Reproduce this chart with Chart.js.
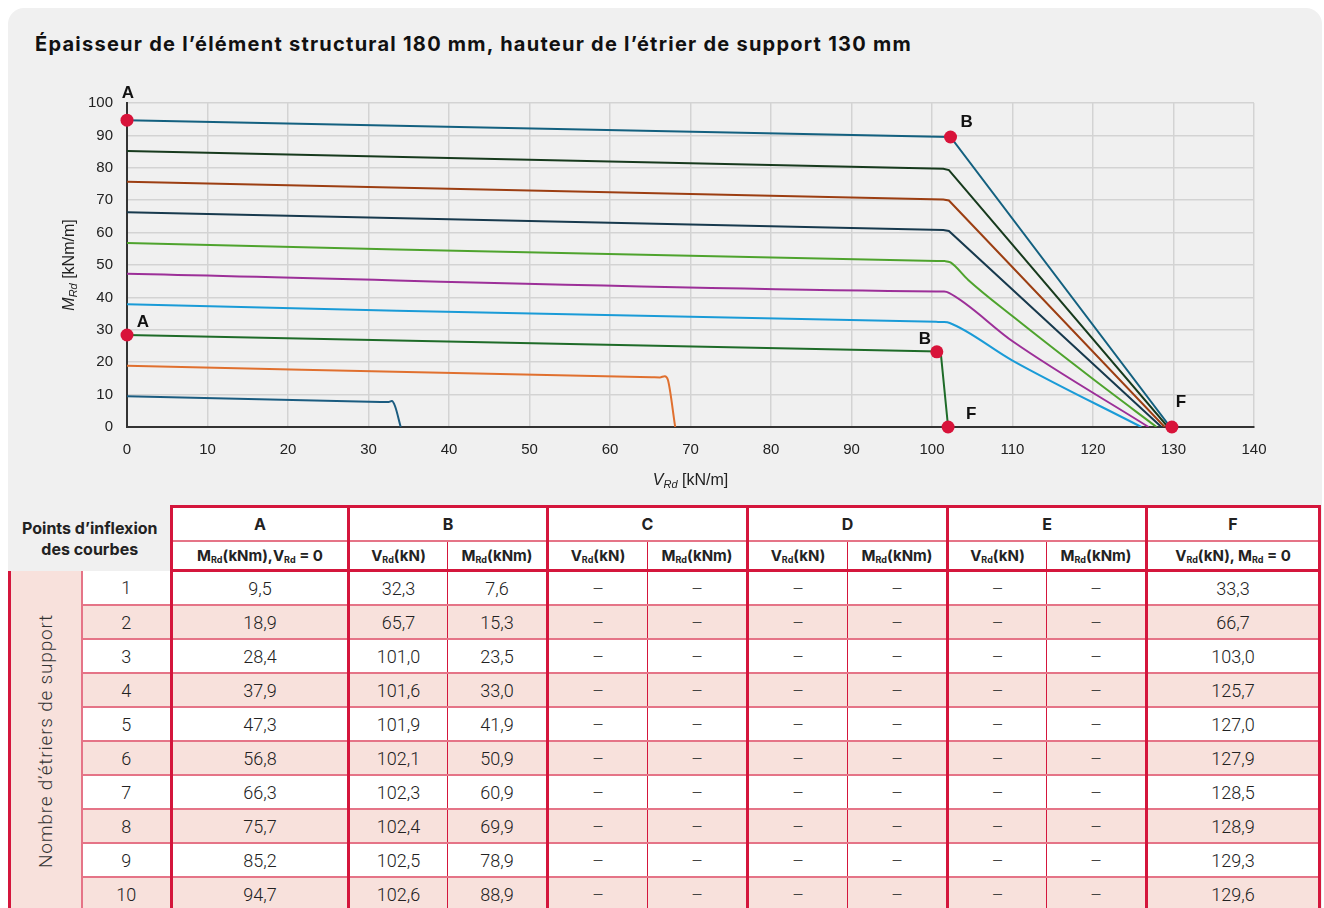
<!DOCTYPE html>
<html lang="fr">
<head>
<meta charset="utf-8">
<script src="https://cdn.jsdelivr.net/npm/chart.js@4.4.0/dist/chart.umd.min.js"></script>
<style>
    html, body { margin: 0; padding: 0; background: #fff; }
    body { width: 1324px; height: 908px; overflow: hidden; font-family: "Liberation Sans", Arial, sans-serif; }
    #card { position: absolute; left: 8px; top: 8px; width: 1314px; height: 940px; background: #f0f0f0; border-radius: 16px; }
    #title { position: absolute; left: 27px; top: 24px; font: 700 20px "Inter", sans-serif; color: #111; white-space: nowrap; letter-spacing: 1.25px; }
    #chartBox { position: absolute; left: 0; top: 72px; width: 1314px; height: 415px; }
    table { position: absolute; left: 0; top: 497px; border-collapse: collapse; table-layout: fixed; width: 1310px; }
    td, th { padding: 0; text-align: center; vertical-align: middle; color: #222; }
    th { font: 700 15px "Inter", sans-serif; background: #fff; }
    th sub { font-size: 9px; vertical-align: -2px; }
    td { font: 300 18px "Roboto", sans-serif; height: 32px; }
    tr.h1 th { height: 32px; font-size: 16px; }
    tr.h2 th { height: 27px; }
    th.corner { background: #f0f0f0; font-size: 15px; line-height: 21px; border: none; }
    .tk { border-left: 3px solid #d4163c; }
    .tkr { border-right: 3px solid #d4163c; }
    .tn { border-left: 1px solid #d4163c; }
    .tt { border-top: 3px solid #d4163c; }
    .tb { border-bottom: 3px solid #d4163c; }
    .pb { border-bottom: 2px solid #e57487; }
    tr.pink td { background: #f8e1dc; }
    tr.white td { background: #fff; }
    td.dash { color: #444; }
    td.side { background: #f8e1dc !important; border-left: 3px solid #d4163c; border-right: 2px solid #e57487; }
    td.side div { writing-mode: vertical-rl; transform: rotate(180deg); font: 300 19px "Roboto", sans-serif; letter-spacing: 0.8px; color: #333; margin: 0 auto; white-space: nowrap; }
</style>
</head>
<body>
<div id="card">
    <div id="title">Épaisseur de l’élément structural 180 mm, hauteur de l’étrier de support 130 mm</div>
    <div id="chartBox"><canvas id="chart" width="1314" height="415"></canvas></div>
    <table id="tbl">
        <colgroup>
            <col style="width:72px"><col style="width:90px"><col style="width:177px">
            <col style="width:99px"><col style="width:100px"><col style="width:100px"><col style="width:100px">
            <col style="width:100px"><col style="width:100px"><col style="width:99px"><col style="width:100px">
            <col style="width:173px">
        </colgroup>
        <thead>
            <tr class="h1">
                <th class="corner tb" colspan="2" rowspan="2">Points d’inflexion<br>des courbes</th>
                <th class="tk tt pb">A</th>
                <th class="tk tt pb" colspan="2">B</th>
                <th class="tk tt pb" colspan="2">C</th>
                <th class="tk tt pb" colspan="2">D</th>
                <th class="tk tt pb" colspan="2">E</th>
                <th class="tk tt pb tkr">F</th>
            </tr>
            <tr class="h2">
                <th class="tk tb">M<sub>Rd</sub>(kNm),V<sub>Rd</sub> = 0</th>
                <th class="tk tb">V<sub>Rd</sub>(kN)</th><th class="tn tb">M<sub>Rd</sub>(kNm)</th>
                <th class="tk tb">V<sub>Rd</sub>(kN)</th><th class="tn tb">M<sub>Rd</sub>(kNm)</th>
                <th class="tk tb">V<sub>Rd</sub>(kN)</th><th class="tn tb">M<sub>Rd</sub>(kNm)</th>
                <th class="tk tb">V<sub>Rd</sub>(kN)</th><th class="tn tb">M<sub>Rd</sub>(kNm)</th>
                <th class="tk tb tkr">V<sub>Rd</sub>(kN), M<sub>Rd</sub> = 0</th>
            </tr>
        </thead>
        <tbody id="tbody"></tbody>
    </table>
</div>
<script>
    "use strict";

    // curves: V_Rd [kN/m] and M_Rd [kNm/m], one pair per number of stirrups
    const curve1V = [0, 31.5, 32.4, 32.9, 33.3, 34.0];
    const curve1M = [9.5, 7.75, 7.7, 8.0, 6.4, 0];
    const curve2V = [0, 65.2, 66.2, 66.8, 67.2, 68.1];
    const curve2M = [18.9, 15.35, 15.3, 15.7, 14.5, 0];
    const curve3V = [0, 100.8, 101.1, 102.0];
    const curve3M = [28.4, 23.3, 22.6, 0];
    const curve4V = [0, 100.5, 101.5, 102.2, 110.0, 126.0];
    const curve4M = [37.9, 32.45, 32.4, 32.1, 20.5, 0];
    const curve5V = [0, 100.5, 101.5, 102.1, 110.1, 126.9];
    const curve5M = [47.3, 41.85, 41.8, 41.4, 26.3, 0];
    const curve6V = [0, 100.6, 101.6, 102.3, 104.5, 110.1, 120.0, 127.9];
    const curve6M = [56.8, 51.26, 51.2, 50.8, 45.4, 34.0, 14.8, 0];
    const curve7V = [0, 101.4, 102.1, 128.5];
    const curve7M = [66.3, 60.8, 60.5, 0];
    const curve8V = [0, 101.4, 102.1, 128.9];
    const curve8M = [75.7, 70.2, 69.9, 0];
    const curve9V = [0, 101.4, 102.1, 129.3];
    const curve9M = [85.2, 79.7, 79.3, 0];
    const curve10V = [0, 102.3, 129.6];
    const curve10M = [94.7, 89.5, 0];

    const curveColors = ['#1b5c80', '#e0702f', '#1e6b28', '#1a9bd7', '#9c2f98',
        '#4ea32d', '#17394d', '#9c3e12', '#173a1d', '#13607f'];
    // curves drawn with a smooth (monotone) path, the others with straight segments
    const smoothCurves = [0, 1, 3, 4, 5];

    // inflexion points marked in red
    const markerV = [0, 102.3, 0, 100.6, 102.0, 129.8];
    const markerM = [94.7, 89.5, 28.4, 23.2, 0, 0];
    const markerLabels = ['A', 'B', 'A', 'B', 'F', 'F'];
    const labelOffsets = [[1, -27], [16, -15], [16, -13], [-12, -13], [23, -13], [9, -25]];

    // table values
    const stirrups = [1, 2, 3, 4, 5, 6, 7, 8, 9, 10];
    const tableA = [9.5, 18.9, 28.4, 37.9, 47.3, 56.8, 66.3, 75.7, 85.2, 94.7];
    const tableBV = [32.3, 65.7, 101.0, 101.6, 101.9, 102.1, 102.3, 102.4, 102.5, 102.6];
    const tableBM = [7.6, 15.3, 23.5, 33.0, 41.9, 50.9, 60.9, 69.9, 78.9, 88.9];
    const tableF = [33.3, 66.7, 103.0, 125.7, 127.0, 127.9, 128.5, 128.9, 129.3, 129.6];

    const curvesV = [curve1V, curve2V, curve3V, curve4V, curve5V, curve6V, curve7V, curve8V, curve9V, curve10V];
    const curvesM = [curve1M, curve2M, curve3M, curve4M, curve5M, curve6M, curve7M, curve8M, curve9M, curve10M];

    const fmt = (n)=> n.toFixed(1).replace('.', ',');

    const buildTable = ()=>{
        let html = '';
        const dash = '<td class="tk pb dash">–</td><td class="tn pb dash">–</td>';
        stirrups.forEach((n, i)=>{
            html += '<tr class="' + (i % 2 ? 'pink' : 'white') + '">';
            if (i === 0) {
                html += '<td class="side" rowspan="10"><div>Nombre d’étriers de support</div></td>';
            }
            html += '<td class="pb">' + n + '</td>';
            html += '<td class="tk pb">' + fmt(tableA[i]) + '</td>';
            html += '<td class="tk pb">' + fmt(tableBV[i]) + '</td><td class="tn pb">' + fmt(tableBM[i]) + '</td>';
            html += dash + dash + dash;
            html += '<td class="tk tkr pb">' + fmt(tableF[i]) + '</td>';
            html += '</tr>';
        });
        document.getElementById('tbody').innerHTML = html;
    };

    // axis title with italic symbol and subscript
    const drawSubTitle = (ctx, main, sub, rest, cx, cy)=>{
        const fMain = 'italic 16px "Liberation Sans"';
        const fSub = 'italic 11px "Liberation Sans"';
        const fRest = '16px "Liberation Sans"';
        ctx.font = fMain; const w1 = ctx.measureText(main).width;
        ctx.font = fSub; const w2 = ctx.measureText(sub).width;
        ctx.font = fRest; const w3 = ctx.measureText(rest).width;
        let x = cx - (w1 + w2 + w3) / 2;
        ctx.textAlign = 'left';
        ctx.textBaseline = 'alphabetic';
        ctx.font = fMain; ctx.fillText(main, x, cy + 6); x += w1;
        ctx.font = fSub; ctx.fillText(sub, x, cy + 9); x += w2;
        ctx.font = fRest; ctx.fillText(rest, x, cy + 6);
    };

    const annotPlugin = {
        id: 'annot',
        afterDatasetsDraw(chart) {
            const {ctx, chartArea, scales} = chart;
            ctx.save();
            ctx.fillStyle = '#111';
            ctx.font = 'bold 17px "Liberation Sans"';
            ctx.textAlign = 'center';
            ctx.textBaseline = 'middle';
            markerLabels.forEach((lab, i)=>{
                ctx.fillText(lab,
                    scales.x.getPixelForValue(markerV[i]) + labelOffsets[i][0],
                    scales.y.getPixelForValue(markerM[i]) + labelOffsets[i][1]);
            });
            ctx.fillStyle = '#222';
            drawSubTitle(ctx, 'V', 'Rd', ' [kN/m]', (chartArea.left + chartArea.right) / 2, chartArea.bottom + 52);
            ctx.translate(chartArea.left - 59, (chartArea.top + chartArea.bottom) / 2);
            ctx.rotate(-Math.PI / 2);
            drawSubTitle(ctx, 'M', 'Rd', ' [kNm/m]', 0, 0);
            ctx.restore();
        }
    };

    const initChart = ()=>{
        const datasets = curvesV.map((vArr, i)=>({
            data: vArr.map((v, k)=>({x: v, y: curvesM[i][k]})),
            borderColor: curveColors[i],
            borderWidth: 2,
            pointRadius: 0,
            tension: 0,
            cubicInterpolationMode: smoothCurves.includes(i) ? 'monotone' : 'default',
            fill: false,
            order: 1
        }));
        datasets.push({
            data: markerV.map((v, k)=>({x: v, y: markerM[k]})),
            showLine: false,
            pointRadius: 6.5,
            pointBackgroundColor: '#d8133a',
            pointBorderWidth: 0,
            clip: false,
            order: 0
        });

        const tickFont = {family: '"Liberation Sans", Arial, sans-serif', size: 15};
        new Chart(document.getElementById('chart').getContext('2d'), {
            type: 'line',
            data: {datasets: datasets},
            plugins: [annotPlugin],
            options: {
                responsive: false,
                animation: false,
                layout: {padding: {top: 22, right: 68, left: 0, bottom: 0}},
                plugins: {legend: {display: false}, tooltip: {enabled: false}},
                scales: {
                    x: {
                        type: 'linear', min: 0, max: 140,
                        ticks: {stepSize: 10, color: '#222', font: tickFont, padding: 14},
                        grid: {color: '#d3d3d3', lineWidth: 1.5, drawTicks: false},
                        border: {color: '#333', width: 2},
                        afterFit: (s)=>{ s.height = 68; }
                    },
                    y: {
                        type: 'linear', min: 0, max: 100,
                        ticks: {stepSize: 10, color: '#222', font: tickFont, padding: 14},
                        grid: {color: '#d3d3d3', lineWidth: 1.5, drawTicks: false},
                        border: {color: '#333', width: 2},
                        afterFit: (s)=>{ s.width = 119; }
                    }
                }
            }
        });
    };

    buildTable();
    initChart();
</script>
</body>
</html>
